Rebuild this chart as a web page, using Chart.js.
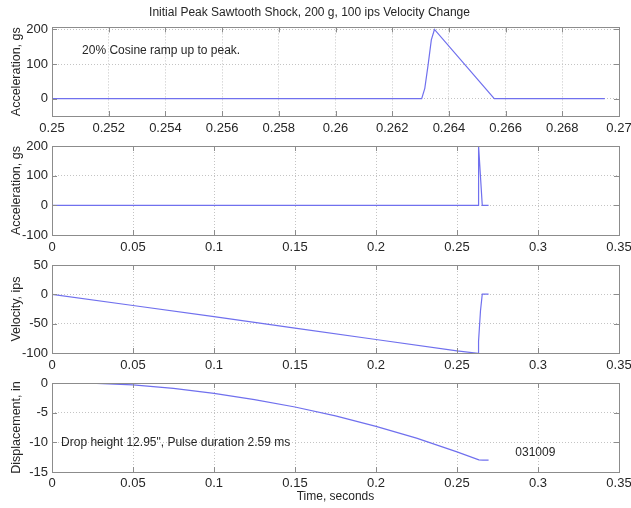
<!DOCTYPE html>
<html>
<head>
<meta charset="utf-8">
<script src="https://cdn.jsdelivr.net/npm/chart.js@4.4.1/dist/chart.umd.min.js"></script>
<style>
  html, body { margin: 0; padding: 0; background: #fff; }
  #wrap { position: relative; width: 631px; height: 508px; background: #fff; }
  #wrap canvas { position: absolute; left: 0; }
</style>
</head>
<body>
<div id="wrap">
  <canvas id="c1" style="top:0px"></canvas>
  <canvas id="c2" style="top:136px"></canvas>
  <canvas id="c3" style="top:255px"></canvas>
  <canvas id="c4" style="top:374px"></canvas>
</div>
<script>
'use strict';

// acceleration pulse (time in s, accel in g) - same trace on plots 1 and 2
let accelTime = [0, 0.26304, 0.26315, 0.26327, 0.26338, 0.26349, 0.2656, 0.2695];
let accelG = [0, 0, 30, 100, 170, 200, 0, 0];

// velocity, ips
let velTime = [0, 0.05, 0.1, 0.15, 0.2, 0.25, 0.26304, 0.26315, 0.26327, 0.26349, 0.2645, 0.2656, 0.2695];
let velIps = [0, -19, -38, -57.5, -77, -96.5, -100.5, -99.5, -96, -80, -28, 0.5, 0.5];

// displacement, in
let dispTime = [0.02, 0.05, 0.075, 0.1, 0.125, 0.15, 0.175, 0.2, 0.225, 0.25, 0.2635, 0.266, 0.2695];
let dispIn = [0, -0.3, -0.9, -1.75, -2.8, -4.05, -5.55, -7.3, -9.3, -11.6, -12.95, -13.0, -13.0];

// tick labels
let zoomTicks = [0.25, 0.252, 0.254, 0.256, 0.258, 0.26, 0.262, 0.264, 0.266, 0.268, 0.27];
let zoomTickLabels = ['0.25', '0.252', '0.254', '0.256', '0.258', '0.26', '0.262', '0.264', '0.266', '0.268', '0.27'];
let fullTicks = [0, 0.05, 0.1, 0.15, 0.2, 0.25, 0.3, 0.35];
let fullTickLabels = ['0', '0.05', '0.1', '0.15', '0.2', '0.25', '0.3', '0.35'];
let accelZoomYTicks = [0, 100, 200];
let accelYTicks = [-100, 0, 100, 200];
let velYTicks = [-100, -50, 0, 50];
let dispYTicks = [-15, -10, -5, 0];

const FONT = 'Liberation Sans, Arial, Helvetica, sans-serif';
const TEXT = '#262626';
const BOX = '#8c8c8c';
const LINE = 'rgb(112,112,238)';

function toPoints(xs, ys) {
  return xs.map((x, i) => ({x: x, y: ys[i]}));
}

// box round the axes plus short inward ticks, like the matlab figure
const boxPlugin = {
  id: 'box',
  afterDraw(chart) {
    const {ctx, chartArea: a, scales: {x, y}} = chart;
    ctx.save();
    ctx.strokeStyle = BOX;
    ctx.lineWidth = 1;
    ctx.strokeRect(Math.round(a.left) + 0.5, Math.round(a.top) + 0.5,
      Math.round(a.right - a.left), Math.round(a.bottom - a.top));
    ctx.beginPath();
    x.ticks.forEach(t => {
      let px = Math.round(x.getPixelForValue(t.value)) + 0.5;
      ctx.moveTo(px, a.bottom); ctx.lineTo(px, a.bottom - 5);
      ctx.moveTo(px, a.top); ctx.lineTo(px, a.top + 5);
    });
    y.ticks.forEach(t => {
      let py = Math.round(y.getPixelForValue(t.value)) + 0.5;
      ctx.moveTo(a.left, py); ctx.lineTo(a.left + 5, py);
      ctx.moveTo(a.right, py); ctx.lineTo(a.right - 5, py);
    });
    ctx.stroke();
    ctx.restore();
  }
};

// text notes placed in data coordinates
const notesPlugin = {
  id: 'notes',
  afterDatasetsDraw(chart, args, opts) {
    const {ctx, scales: {x, y}} = chart;
    ctx.save();
    ctx.font = '12px ' + FONT;
    ctx.fillStyle = TEXT;
    ctx.textBaseline = 'middle';
    ctx.textAlign = 'left';
    (opts.items || []).forEach(n => {
      ctx.fillText(n.text, x.getPixelForValue(n.x), y.getPixelForValue(n.y));
    });
    ctx.restore();
  }
};

function makeChart(id, cfg) {
  let canvas = document.getElementById(id);
  canvas.width = 631;
  canvas.height = cfg.height;
  canvas.style.width = '631px';
  canvas.style.height = cfg.height + 'px';

  return new Chart(canvas, {
    type: 'line',
    data: {
      datasets: [{
        data: toPoints(cfg.xs, cfg.ys),
        borderColor: LINE,
        borderWidth: 1.2,
        pointRadius: 0,
        tension: 0,
        fill: false
      }]
    },
    options: {
      responsive: false,
      animation: false,
      events: [],
      layout: {
        autoPadding: false,
        padding: {top: cfg.padTop, right: 12, left: 0, bottom: 0}
      },
      plugins: {
        legend: {display: false},
        tooltip: {enabled: false},
        title: cfg.title ? {
          display: true,
          text: cfg.title,
          color: TEXT,
          font: {family: FONT, size: 12, weight: 'normal'},
          padding: {top: 5, bottom: 8}
        } : {display: false},
        notes: {items: cfg.notes || []}
      },
      scales: {
        x: {
          type: 'linear',
          min: cfg.xMin,
          max: cfg.xMax,
          afterBuildTicks: s => { s.ticks = cfg.xTicks.map(v => ({value: v})); },
          afterFit: s => {
            s.height = cfg.xAxisHeight;
            s.paddingLeft = 0;
            s.paddingRight = 0;
          },
          ticks: {
            color: TEXT,
            font: {family: FONT, size: 13},
            padding: cfg.xPad,
            maxRotation: 0,
            autoSkip: false,
            callback: (v, i) => cfg.xLabels[i]
          },
          grid: {color: '#c4c4c4', drawTicks: false, lineWidth: 1},
          border: {display: false, dash: [1, 2]},
          title: cfg.xTitle ? {
            display: true,
            text: cfg.xTitle,
            color: TEXT,
            font: {family: FONT, size: 12},
            padding: {top: 1, bottom: 4}
          } : {display: false}
        },
        y: {
          type: 'linear',
          min: cfg.yMin,
          max: cfg.yMax,
          afterBuildTicks: s => { s.ticks = cfg.yTicks.map(v => ({value: v})); },
          afterFit: s => {
            s.width = 52;
            s.paddingTop = 0;
            s.paddingBottom = 0;
          },
          ticks: {
            color: TEXT,
            font: {family: FONT, size: 13},
            padding: 4,
            callback: v => String(v)
          },
          grid: {color: '#c4c4c4', drawTicks: false, lineWidth: 1},
          border: {display: false, dash: [1, 2]},
          title: {
            display: true,
            text: cfg.yTitle,
            color: TEXT,
            font: {family: FONT, size: 12.5},
            padding: {top: 9, bottom: 0}
          }
        }
      }
    },
    plugins: [boxPlugin, notesPlugin]
  });
}

makeChart('c1', {
  height: 136, padTop: 0, xAxisHeight: 20, xPad: 5,
  title: 'Initial Peak Sawtooth Shock, 200 g, 100 ips Velocity Change',
  xs: accelTime, ys: accelG,
  xMin: 0.25, xMax: 0.27, xTicks: zoomTicks, xLabels: zoomTickLabels,
  yMin: -50, yMax: 206, yTicks: accelZoomYTicks,
  yTitle: 'Acceleration, gs',
  notes: [{text: '20% Cosine ramp up to peak.', x: 0.25106, y: 138}]
});

makeChart('c2', {
  height: 119, padTop: 10, xAxisHeight: 20, xPad: 5,
  xs: accelTime, ys: accelG,
  xMin: 0, xMax: 0.35, xTicks: fullTicks, xLabels: fullTickLabels,
  yMin: -100, yMax: 200, yTicks: accelYTicks,
  yTitle: 'Acceleration, gs'
});

makeChart('c3', {
  height: 119, padTop: 10, xAxisHeight: 21, xPad: 5,
  xs: velTime, ys: velIps,
  xMin: 0, xMax: 0.35, xTicks: fullTicks, xLabels: fullTickLabels,
  yMin: -100, yMax: 50, yTicks: velYTicks,
  yTitle: 'Velocity, ips'
});

makeChart('c4', {
  height: 134, padTop: 9, xAxisHeight: 36, xPad: 4,
  xs: dispTime, ys: dispIn,
  xMin: 0, xMax: 0.35, xTicks: fullTicks, xLabels: fullTickLabels,
  yMin: -15, yMax: 0, yTicks: dispYTicks,
  yTitle: 'Displacement, in',
  xTitle: 'Time, seconds',
  notes: [
    {text: 'Drop height 12.95", Pulse duration 2.59 ms', x: 0.0056, y: -10},
    {text: '031009', x: 0.286, y: -11.7}
  ]
});
</script>
</body>
</html>
